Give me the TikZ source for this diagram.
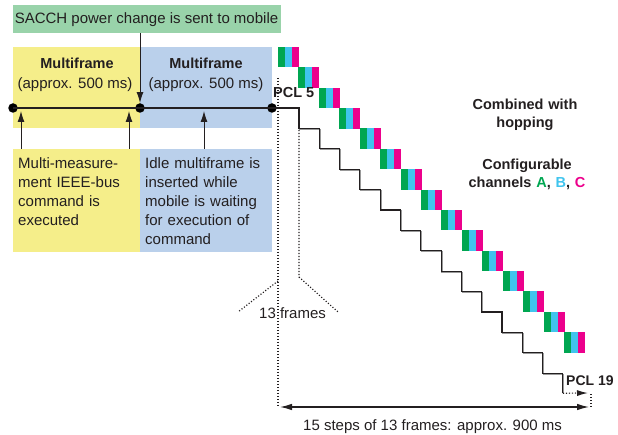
\documentclass[tikz,border=0pt]{standalone}
\usepackage{fontspec}
\setmainfont{Liberation Sans}
\usetikzlibrary{arrows.meta}
\definecolor{yel}{HTML}{F5EE8A}
\definecolor{blu}{HTML}{BAD0EB}
\definecolor{grn}{HTML}{99D3AA}
\definecolor{cA}{HTML}{00A651}
\definecolor{cB}{HTML}{40C4EE}
\definecolor{cC}{HTML}{EC008C}
\definecolor{ink}{HTML}{231F20}
\tikzset{
  box/.style={anchor=north west, inner sep=0pt, outer sep=0pt},
  reg/.style={text=ink, font=\fontsize{15}{19}\selectfont, inner sep=0pt},
  bld/.style={text=ink, font=\fontsize{14.5}{18}\selectfont\bfseries, inner sep=0pt},
  dotnode/.style={circle, fill=black, inner sep=0pt, minimum size=9.5pt},
  arr/.style={draw=ink, line width=1pt, -{Latex[length=11pt,width=7pt]}},
  dotline/.style={draw=ink, line width=1.2pt, dash pattern=on 1.1pt off 1.9pt},
  stair/.style={draw=ink, line width=1.1pt},
}
\begin{document}
\begin{tikzpicture}[x=1pt,y=-1pt]
\useasboundingbox (0,0) rectangle (618,435);

% boxes
\node[box, fill=grn, minimum width=268pt, minimum height=28pt] (sacchbox) at (13,5) {};
\node[reg, anchor=base] (sacch) at (146.5,24) {SACCH power change is sent to mobile};
\node[box, fill=yel, minimum width=127pt, minimum height=81pt] (ytop) at (13,47) {};
\node[box, fill=blu, minimum width=132pt, minimum height=81pt] (btop) at (140,47) {};
\node[box, fill=yel, minimum width=127pt, minimum height=103pt] (ybot) at (13,149) {};
\node[box, fill=blu, minimum width=132pt, minimum height=103pt] (bbot) at (140,149) {};

\node[bld, anchor=base] (mf1) at (77,69) {Multiframe};
\node[reg, anchor=base] (ap1) at (75,89) {(approx. 500 ms)};
\node[bld, anchor=base] (mf2) at (206,69) {Multiframe};
\node[reg, anchor=base] (ap2) at (206,89) {(approx. 500 ms)};

\node[reg, anchor=base west, text width=120pt, align=left] (t1) at (18,169)
  {Multi-measure-\\ment IEEE-bus\\command is\\executed};
\node[reg, anchor=base west, text width=130pt, align=left] (t2) at (145,169)
  {Idle multiframe is\\inserted while\\mobile is waiting\\for execution of\\command};

% timeline
\node[dotnode] (d1) at (13,108) {};
\node[dotnode] (d2) at (140,108) {};
\node[dotnode] (d3) at (272,108) {};
\draw[draw=ink, line width=1.3pt] (d1.center) -- (d2.center) -- (d3.center);

\draw[arr] (sacchbox.south -| d2) -- (d2.north);
\coordinate (u1) at (21,111);
\coordinate (u2) at (129,111);
\coordinate (u3) at (204,111);
\draw[arr] (ybot.north -| u1) -- (u1);
\draw[arr] (ybot.north -| u2) -- (u2);
\draw[arr] (bbot.north -| u3) -- (u3);

% colour blocks
\foreach \i in {0,...,14} {
  \pgfmathsetmacro{\bx}{278+\i*20.43}
  \pgfmathsetmacro{\by}{47+\i*20.36}
  \fill[cA] (\bx,\by) rectangle ++(7,20.5);
  \fill[cB] (\bx+7,\by) rectangle ++(7,20.5);
  \fill[cC] (\bx+14,\by) rectangle ++(7,20.5);
}

% staircase
\draw[stair, draw=black!40, shift={(0.9,0.9)}] (299,108) \foreach \k in {1,...,13} { -- ++(0,20.4) -- ++(20.3,0) } -- ++(0,20);
\draw[stair] (d3.center) -- (299,108) \foreach \k in {1,...,13} { -- ++(0,20.4) -- ++(20.3,0) } -- ++(0,20) coordinate (s19);

\node[bld, font=\fontsize{14.5}{17}\selectfont\bfseries, anchor=base west] (pcl5) at (273,98) {PCL 5};
\node[bld, font=\fontsize{14}{17}\selectfont\bfseries, anchor=base west] (pcl19) at (566,385) {PCL 19};

% dotted lines
\coordinate (v1t) at (278,78);
\coordinate (v1b) at (278,406);
\draw[dotline] (v1t) -- (v1b);
\coordinate (v2t) at (299,109);
\coordinate (v2m) at (299,277);
\coordinate (v2e) at (338,312);
\draw[dotline] (v2t) -- (v2m) -- (v2e);
\coordinate (v1m) at (278,281);
\coordinate (v1e) at (238,312);
\draw[dotline] (v1m) -- (v1e);
\node[reg, anchor=base west] (frames) at (259,319) {13 frames};

% PCL 19 dotted arrow
\coordinate (e19) at (588,393);
\draw[dotline, -{Latex[length=11pt,width=6pt]}] (s19) -- (e19);
\coordinate (q1) at (591,394);
\coordinate (q2) at (591,407);
\draw[dotline] (q1) -- (q2);

% bottom arrow
\coordinate (bl) at (280,407);
\coordinate (br) at (589,407);
\draw[draw=ink, line width=1.2pt, {Latex[length=12pt,width=6.5pt]}-{Latex[length=12pt,width=6.5pt]}] (bl) -- (br);
\node[reg, anchor=base west] (steps) at (303,430) {15 steps of 13 frames: approx. 900 ms};

% right labels
\node[bld, anchor=base, align=center, text width=140pt] (comb) at (525,110) {Combined with\\hopping};
\node[bld, anchor=base, align=center, text width=140pt] (conf) at (527,170)
  {Configurable\\channels \textcolor{cA}{A}, \textcolor{cB}{B}, \textcolor{cC}{C}};
\end{tikzpicture}
\end{document}
